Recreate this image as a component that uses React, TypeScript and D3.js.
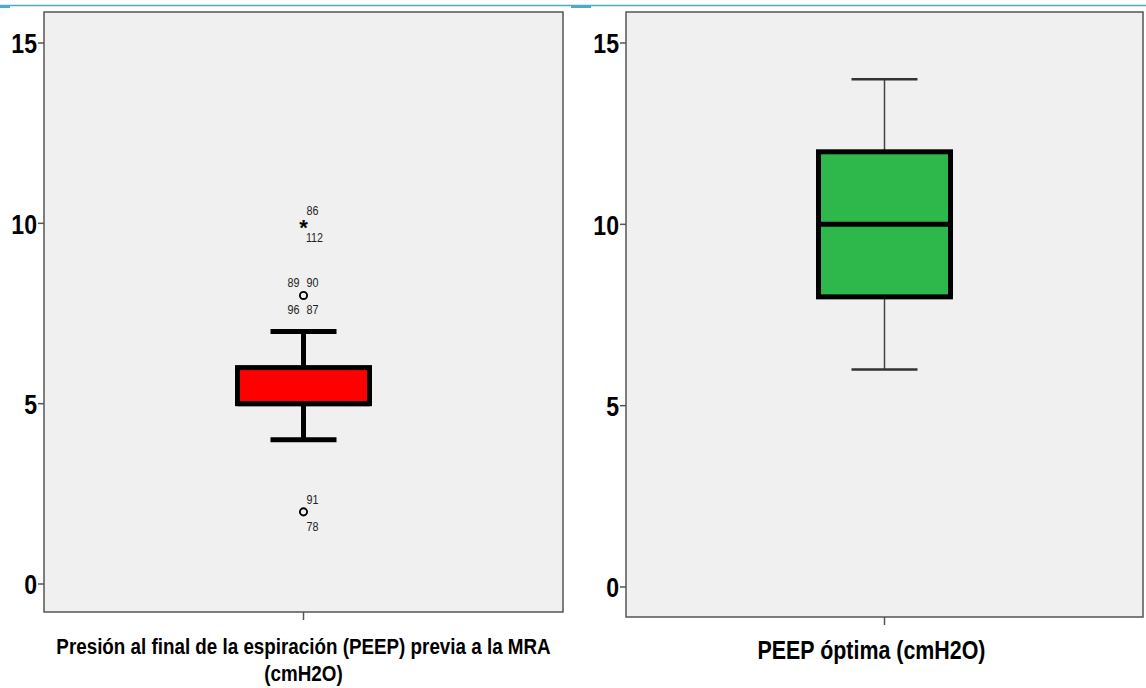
import React from 'react';
import * as d3 from 'd3';

// values
const panelNames = ['previa', 'optima'];
const axisLabels = [
    ['Presión al final de la espiración (PEEP) previa a la MRA', '(cmH2O)'],
    ['PEEP óptima (cmH2O)']
];
const yTicks = [0, 5, 10, 15];
const whiskerLow = [4, 6];
const quart1 = [5, 8];
const medians = [5, 10];
const quart3 = [6, 12];
const whiskerHigh = [7, 14];
const boxColors = ['#ff0000', '#2eb84b'];

// outliers of the first panel (the second has none)
const outlierValues = [10, 8, 2];
const outlierKinds = ['extreme', 'mild', 'mild'];
const outlierAbove = [['86'], ['89', '90'], ['91']];
const outlierBelow = [['112'], ['96', '87'], ['78']];

const W = 1146;
const H = 688;
const font = "'Liberation Sans', Arial, sans-serif";
const squeeze = 0.84; // no narrow font installed, so squash a normal one

const layout = [
    { left: 44, right: 563, top: 12, bottom: 612, zeroY: 584, topY: 43, thick: true, labelSize: 22.4, labelShift: 0 },
    { left: 626, right: 1143, top: 12, bottom: 617, zeroY: 587, topY: 43, thick: false, labelSize: 25.5, labelShift: -13 }
];

function Narrow({ x, y, size, bold = false, anchor = 'middle', dy = '0', fill = '#000', children }) {
    return (
        <text transform={`translate(${x},${y}) scale(${squeeze},1)`} dy={dy} textAnchor={anchor}
              fontFamily={font} fontWeight={bold ? 'bold' : 'normal'} fontSize={size} fill={fill}>
            {children}
        </text>
    );
}

function Panel({ index }) {
    const L = layout[index];
    const y = d3.scaleLinear().domain([0, 15]).range([L.zeroY, L.topY]);
    const x = d3.scalePoint().domain([panelNames[index]]).range([L.left, L.right]).padding(0.5);
    const cx = x(panelNames[index]);
    const boxW = 132;
    const capW = 66;
    const whiskerStroke = L.thick ? 5 : 1.5;
    const capStroke = L.thick ? 5 : 2.5;
    const whiskerColor = L.thick ? '#000' : '#444';

    const outliers = index === 0 ? outlierValues.map((v, i) => ({
        v, kind: outlierKinds[i], above: outlierAbove[i], below: outlierBelow[i]
    })) : [];

    const labelX = (labels, j) => labels.length === 1 ? cx + 9 : cx + (j === 0 ? -10 : 9);

    return (
        <g>
            <rect x={L.left} y={L.top} width={L.right - L.left} height={L.bottom - L.top}
                  fill="#f0f0f0" stroke="#555" strokeWidth={1.5} />
            {yTicks.map(t => (
                <g key={t}>
                    <line x1={L.left - 6} x2={L.left} y1={y(t)} y2={y(t)} stroke="#555" strokeWidth={1.5} />
                    <Narrow x={L.left - 7} y={y(t)} dy="0.37em" anchor="end" size={27.5} bold>{t}</Narrow>
                </g>
            ))}
            <line x1={cx} x2={cx} y1={L.bottom} y2={L.bottom + 8} stroke="#555" strokeWidth={1.5} />
            {axisLabels[index].map((s, i) => (
                <Narrow key={i} x={cx + L.labelShift} y={(index === 0 ? 654 : 659) + i * 27}
                        size={L.labelSize} bold>{s}</Narrow>
            ))}

            {/* whiskers */}
            <line x1={cx} x2={cx} y1={y(whiskerHigh[index])} y2={y(quart3[index])}
                  stroke={whiskerColor} strokeWidth={whiskerStroke} />
            <line x1={cx} x2={cx} y1={y(quart1[index])} y2={y(whiskerLow[index])}
                  stroke={whiskerColor} strokeWidth={whiskerStroke} />
            {[whiskerHigh[index], whiskerLow[index]].map((v, i) => (
                <line key={i} x1={cx - capW / 2} x2={cx + capW / 2} y1={y(v)} y2={y(v)}
                      stroke={L.thick ? '#000' : '#333'} strokeWidth={capStroke} />
            ))}

            {/* box */}
            <rect x={cx - boxW / 2} y={y(quart3[index])} width={boxW}
                  height={y(quart1[index]) - y(quart3[index])}
                  fill={boxColors[index]} stroke="#000" strokeWidth={5} />
            <line x1={cx - boxW / 2} x2={cx + boxW / 2} y1={y(medians[index])} y2={y(medians[index])}
                  stroke="#000" strokeWidth={5} />

            {outliers.map((o, i) => (
                <g key={i}>
                    {o.kind === 'extreme'
                        ? <text x={cx} y={y(o.v)} dy="0.52em" textAnchor="middle"
                                fontFamily={font} fontWeight="bold" fontSize={22}>*</text>
                        : <circle cx={cx} cy={y(o.v)} r={3.6} fill="none" stroke="#000" strokeWidth={1.9} />}
                    {o.above.map((s, j) => (
                        <Narrow key={'a' + j} x={labelX(o.above, j)} y={y(o.v) - 8} size={12.8} fill="#222">{s}</Narrow>
                    ))}
                    {o.below.map((s, j) => (
                        <Narrow key={'b' + j} x={labelX(o.below, j) + (s.length > 2 ? 2 : 0)} y={y(o.v) + 19}
                                size={12.8} fill="#222">{s}</Narrow>
                    ))}
                </g>
            ))}
        </g>
    );
}

export default function App() {
    return (
        <div style={{ position: 'absolute', left: 0, top: 0, width: W, height: H, background: '#fff' }}>
            <svg width={W} height={H} style={{ display: 'block' }}>
                <rect width={W} height={H} fill="#fff" />
                {/* thin header rule of the slide */}
                <line x1={0} x2={W} y1={5.5} y2={5.5} stroke="#4bacc6" strokeWidth={1.5} />
                <rect x={0} y={5} width={10} height={3} fill="#4bacc6" />
                <rect x={571} y={5} width={20} height={3} fill="#4bacc6" />
                {panelNames.map((p, i) => <Panel key={p} index={i} />)}
            </svg>
        </div>
    );
}
